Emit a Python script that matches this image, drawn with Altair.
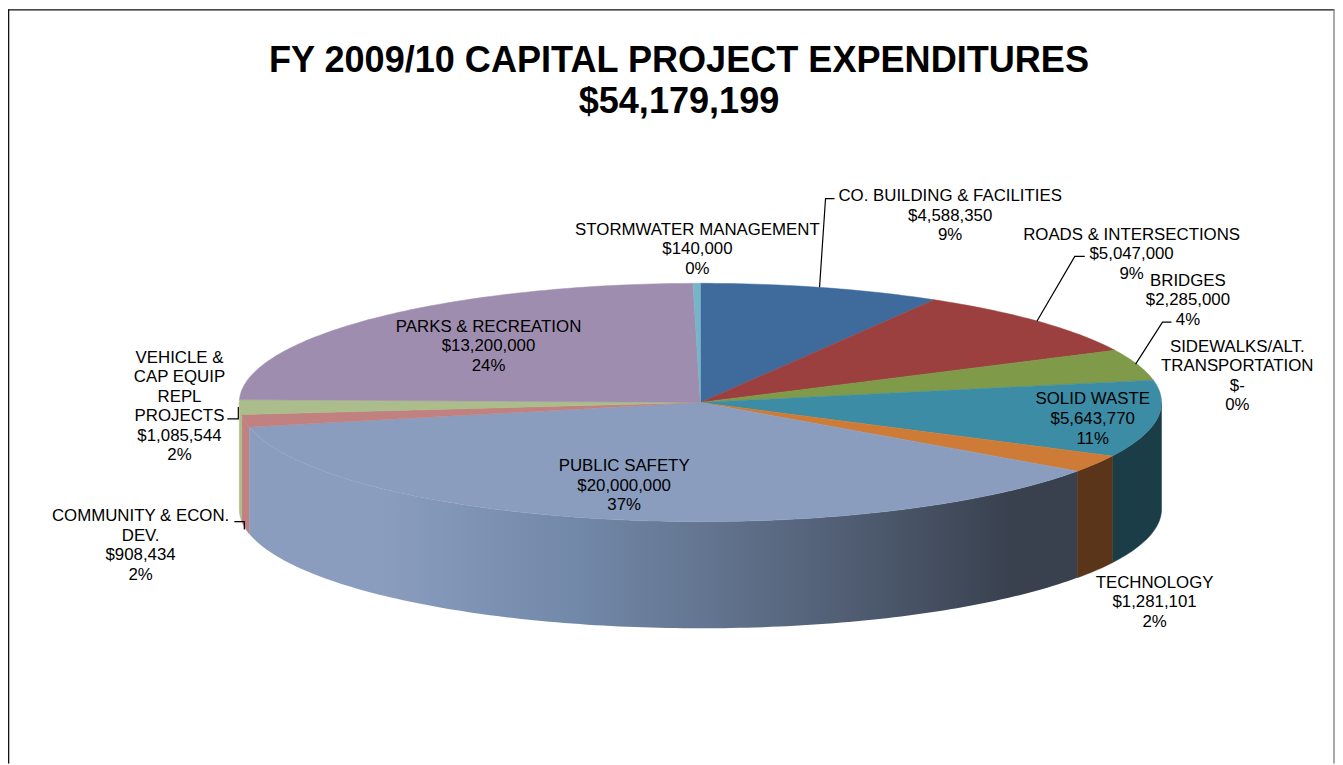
import math
import altair as alt

TITLE = ["FY 2009/10 CAPITAL PROJECT EXPENDITURES", "$54,179,199"]
NAMES = [
    ["CO. BUILDING & FACILITIES"],
    ["ROADS & INTERSECTIONS"],
    ["BRIDGES"],
    ["SIDEWALKS/ALT.", "TRANSPORTATION"],
    ["SOLID WASTE"],
    ["TECHNOLOGY"],
    ["PUBLIC SAFETY"],
    ["COMMUNITY & ECON.", "DEV."],
    ["VEHICLE &", "CAP EQUIP", "REPL", "PROJECTS"],
    ["PARKS & RECREATION"],
    ["STORMWATER MANAGEMENT"],
]
AMOUNTS = [4588350, 5047000, 2285000, 0, 5643770, 1281101, 20000000, 908434, 1085544, 13200000, 140000]
PERCENTS = ["9%", "9%", "4%", "0%", "11%", "2%", "37%", "2%", "2%", "24%", "0%"]
TOP_COLORS = ["#3F6A9C", "#9B403E", "#7F9A49", "#65507F", "#3B8CA4", "#CE7B37",
              "#8A9DBF", "#C08180", "#AABD8A", "#9F8DAF", "#78B4C8"]
WALL_COLORS = ["#2A4A6E", "#6E2D2C", "#5A6D33", "#47385A", "#1B3D48", "#5A3519",
               "#8A9DBF", "#C08180", "#AABD8A", "#6F6280", "#4F8091"]

# ---- layout (page pixels, the chart origin sits at 8,8)
W, H = 1331, 757
OX, OY = 8, 8
GEO_DX = 2  # pie and leaders nudge
CX, CY, RX, RY, DEPTH = 700.5 - OX + GEO_DX, 402.5 - OY, 462.5, 119.5, 107
FONT = "Liberation Sans"
LABEL_SIZE = 16.9
LABEL_ANCHORS = [(953, 195.5), (1135, 234.5), (1191.5, 280.5), (1241, 346.5), (1096, 399.5), (1158, 583.5),
                 (626, 466.5), (141, 516.5), (180, 357.5), (490, 326.5), (699.5, 229.5)]
LINE_STEP = 19.6
TITLE_ANCHORS = [(681, 60), (681, 101)]
TITLE_SIZE = 36.2
LEADERS = [
    [(820, 287), (826, 198), (835, 198)],
    [(1038, 321), (1076, 256), (1086, 256)],
    [(1137, 364), (1164, 322), (1173, 322)],
    [(237, 407), (237, 419), (226, 419)],
    [(233, 522), (243, 522), (243, 530)],
]
FRAME_TOP = [(8, 8.5), (1338.5, 8.5)]
FRAME_LEFT = [(8.5, 8), (8.5, 765)]
FRAME_RIGHT = [(1338, 8), (1338, 765)]


def pt(deg, dy=0.0):
    a = math.radians(deg)
    return [CX + RX * math.sin(a), CY - RY * math.cos(a) + dy]


def arc(a0, a1, dy=0.0):
    n = max(2, int(abs(a1 - a0)) + 2)
    return [pt(a0 + (a1 - a0) * i / (n - 1), dy) for i in range(n)]


def feature(kind, coords, fill="#000"):
    return {"type": "Feature", "properties": {"fill": fill},
            "geometry": {"type": kind, "coordinates": coords}}


total = sum(AMOUNTS)
tops, walls, shaded = [], [], []
start = 0.0
for i, amount in enumerate(AMOUNTS):
    end = start + amount / total * 360
    if amount > 0:
        ring = [[CX, CY]] + arc(start, end) + [[CX, CY]]
        tops.append(feature("Polygon", [ring], TOP_COLORS[i]))
        a0, a1 = max(start, 90), min(end, 270)
        if a1 > a0:
            top_edge = arc(a0, a1)
            bottom_edge = arc(a1, a0, DEPTH)
            wall = feature("Polygon", [top_edge + bottom_edge + [top_edge[0]]], WALL_COLORS[i])
            (shaded if i == 6 else walls).append(wall)
    start = end


def shift(points, dx=0):
    return [[x - OX + dx, y - OY] for x, y in points]


leader_lines = [feature("LineString", shift(p, GEO_DX)) for p in LEADERS]
frame_dark = [feature("LineString", shift(FRAME_TOP)), feature("LineString", shift(FRAME_LEFT))]
frame_grey = [feature("LineString", shift(FRAME_RIGHT))]

rows = []
for i, lines in enumerate(NAMES):
    amount = f"${AMOUNTS[i]:,}" if AMOUNTS[i] else "$-"
    ax, ay = LABEL_ANCHORS[i]
    for j, line in enumerate(lines + [amount, PERCENTS[i]]):
        rows.append({"x": ax - OX, "y": ay - OY + j * LINE_STEP, "t": line})

title_rows = [{"x": a[0] - OX, "y": a[1] - OY, "t": t} for a, t in zip(TITLE_ANCHORS, TITLE)]

proj = alt.Projection(type="identity", scale=1, translate=[0, 0])


def geo(features, **mark):
    return alt.Chart(alt.Data(values=features)).mark_geoshape(**mark).project(**proj.to_dict())


def text_layer(data, **mark):
    return alt.Chart(alt.Data(values=data)).mark_text(
        font=FONT, color="#000", align="center", baseline="middle", **mark
    ).encode(x=alt.X("x:Q", scale=None, axis=None), y=alt.Y("y:Q", scale=None, axis=None), text="t:N")


fill_enc = dict(fill=alt.Fill("properties.fill:N", scale=None),
                stroke=alt.Stroke("properties.fill:N", scale=None))

grad = alt.Gradient(gradient="linear", x1=0, x2=1, y1=0, y2=0, stops=[
    alt.GradientStop(color="#8A9DBF", offset=0),
    alt.GradientStop(color="#8A9DBF", offset=0.16),
    alt.GradientStop(color="#7288A8", offset=0.4),
    alt.GradientStop(color="#596880", offset=0.65),
    alt.GradientStop(color="#39414F", offset=0.92),
    alt.GradientStop(color="#39414F", offset=1),
])

layers = [
    geo(walls, strokeWidth=0.5).encode(**fill_enc),
    geo(shaded, fill=grad, stroke=None),
    geo(tops, strokeWidth=0.5).encode(**fill_enc),
    geo(leader_lines, filled=False, stroke="#000", strokeWidth=1.2),
    geo(frame_dark, filled=False, stroke="#111", strokeWidth=1.6),
    geo(frame_grey, filled=False, stroke="#8c8c8c", strokeWidth=1.5),
    text_layer(rows, fontSize=LABEL_SIZE),
    text_layer(title_rows, fontSize=TITLE_SIZE, fontWeight="bold"),
]

chart = alt.layer(*layers).properties(
    width=W, height=H, padding=0,
    autosize=alt.AutoSizeParams(type="none"),
).configure_view(stroke=None)

chart.save("out.html", embed_options={"renderer": "svg", "actions": False})
